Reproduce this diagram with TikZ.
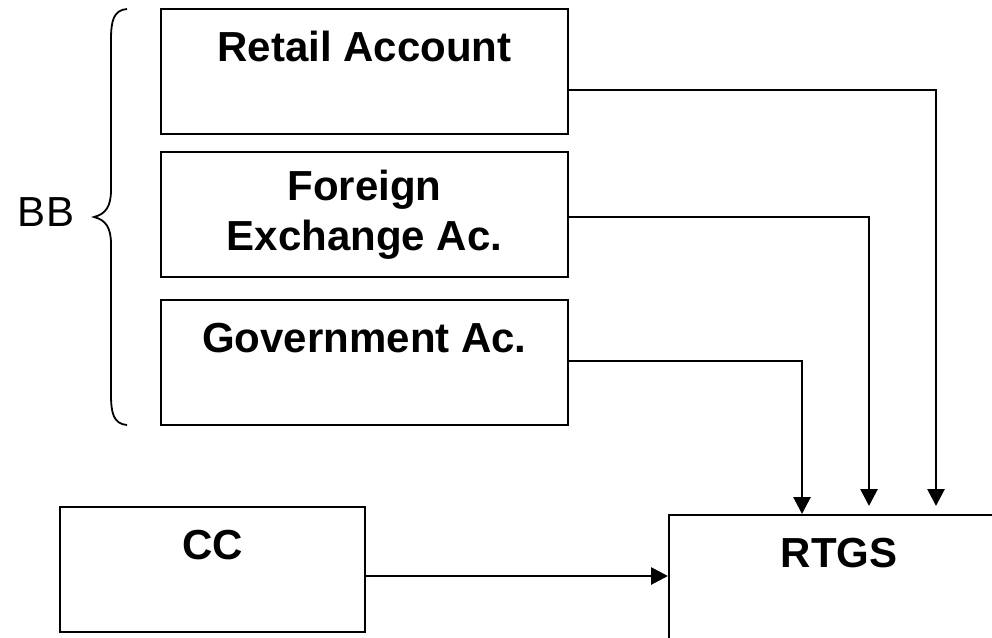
\documentclass[tikz,border=0pt]{standalone}
\usepackage{fontspec}
\setmainfont{Liberation Sans}
\usetikzlibrary{arrows.meta}

\begin{document}
\begin{tikzpicture}[x=1pt, y=-1pt,
    acbox/.style={draw, line width=2pt, minimum width=407pt, minimum height=125pt,
        inner sep=0pt, align=center, font=\fontsize{42}{50}\selectfont\bfseries},
    flow/.style={line width=2.8pt, -{Triangle[length=17pt,width=17pt]}}]
    \useasboundingbox (0,0) rectangle (992,637);

    % accounts held with BB
    \node[acbox] (retail) at (364.5,71.5) {Retail Account\\\mbox{}};
    \node[acbox] (forex) at (364.5,214.5) {Foreign\\Exchange Ac.};
    \node[acbox] (govt) at (364.5,362.5) {Government Ac.\\\mbox{}};

    % brace and its label
    \draw[line width=1.8pt] (127,9) .. controls (113,10) and (111,22) .. (111,40) -- (111,190)
        .. controls (111,206) and (106,214) .. (94,217)
        .. controls (106,220) and (111,228) .. (111,244) -- (111,394)
        .. controls (111,412) and (113,424) .. (127,425);
    \node[font=\fontsize{42}{50}\selectfont] (bb) at (46,212) {BB};

    % CC and RTGS
    \node[acbox, minimum width=305pt] (cc) at (212.5,569.5) {CC\\\mbox{}};
    \node[acbox, minimum width=340pt] (rtgs) at (839,577.5) {RTGS\\\mbox{}};

    % feeds into RTGS
    \foreach \src/\dy/\dx/\gap in {retail/-18.5/268/8, forex/-2.5/201/8, govt/1.5/134/0}
        \draw[flow, shorten >=\gap pt] ([yshift=\dy pt]\src.east) -| ([xshift=\dx pt]rtgs.north west);
    \coordinate (ccout) at ([yshift=-6.5pt]cc.east);
    \draw[flow] (ccout) -- (ccout -| rtgs.west);
\end{tikzpicture}
\end{document}
